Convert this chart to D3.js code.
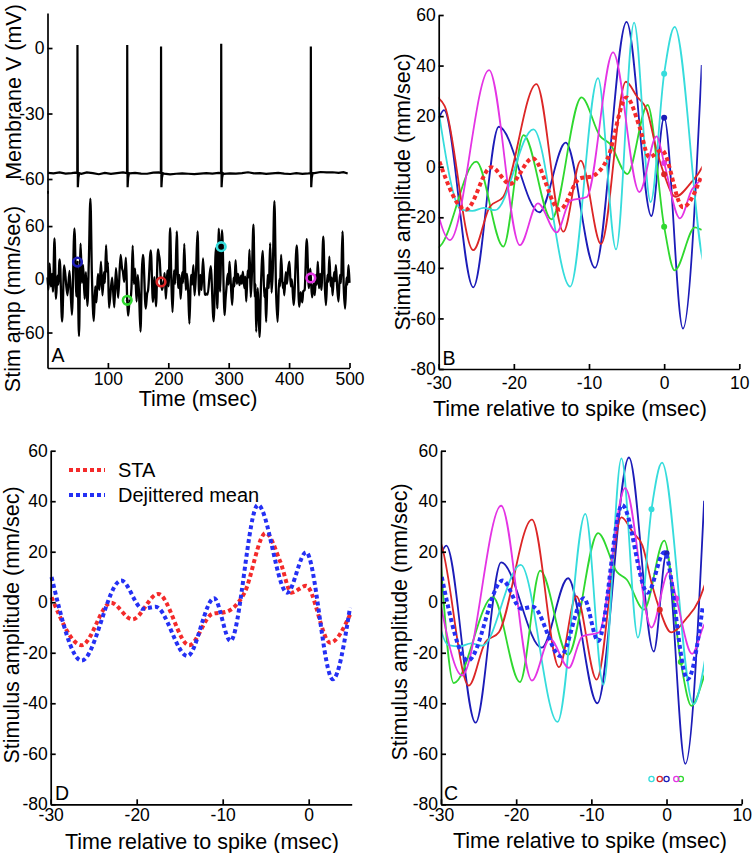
<!DOCTYPE html>
<html>
<head>
<meta charset="utf-8">
<script src="https://cdn.jsdelivr.net/npm/d3@7"></script>
<style>
  body { margin: 0; background: #fff; }
  svg { display: block; font-family: "Liberation Sans", Arial, sans-serif; }
  .axis path, .axis line { stroke: #000; stroke-width: 1.7; }
  .axis text { font-size: 17.5px; fill: #000; }
  .lab { font-size: 21.5px; fill: #000; }
  .panel { font-size: 19.5px; fill: #000; }
</style>
</head>
<body>
<svg id="fig" width="752" height="853"></svg>
<script>
// ---- data ----
// order of trials: blue, green, red, cyan, magenta
const trialColors = ["#1c1cb8", "#2fd82f", "#dc2626", "#36dcdc", "#e434e4"];
const spikeTimes = [49.6, 132, 188, 287.6, 436];      // msec
const spikePeakV = [1.4, 1.4, 0.7, 2, 0.7];           // mV
const spikeStim = [19.4, -23.7, -3, 36.8, 1.5];       // stimulus at spike time
const jitter = [0, 1.9, -0.9, -2.0, 1.3];             // dejitter shift (msec)

// spike waveform (relative time, mV); null = spike peak
const spikeWaveDt = [-0.3, 0, 0.6, 1.5, 3];
const spikeWaveV = [-57.3, null, -63.8, -59.5, -57.3];

// membrane baseline [msec, mV]
const vmBaseline = [[1,-57.2],[10,-57.4],[20,-57.0],[30,-57.5],[40,-57.3],[46,-57.1],[56,-57.6],[65,-57.0],
  [75,-57.3],[85,-57.8],[95,-57.2],[105,-57.6],[115,-57.3],[125,-57.0],[136,-57.4],[145,-57.2],[155,-57.5],
  [165,-57.6],[175,-57.1],[184,-57.0],[193,-57.5],[203,-57.9],[213,-57.6],[223,-57.4],[233,-57.6],[243,-57.8],
  [253,-57.5],[263,-57.3],[273,-57.5],[283,-57.2],[292,-57.6],[302,-57.4],[312,-57.5],[322,-57.3],[332,-56.9],
  [342,-57.4],[352,-57.3],[362,-57.6],[372,-57.4],[382,-57.2],[392,-57.5],[402,-57.7],[412,-57.3],[422,-57.6],
  [432,-57.4],[442,-57.3],[452,-56.8],[462,-57.0],[472,-56.9],[482,-57.2],[490,-56.9],[497,-57.5]];

// stimulus trace extrema [msec, mm/sec]
const stimTrace = [[0,2],[1.5,-12],[3.5,18],[5.5,-8],[7.5,6],[9,-14],[11.6,46],[14,-22],[16.5,4],[18,-6],
  [19.6,19],[20.3,22.4],[24.2,-47.7],[27.6,15.8],[33,-18],[36.5,9.5],[40.4,-40],[44.6,57.3],[47.9,-19.5],[49.6,19.4],[52.1,-64],[54.8,40.2],
  [57,-4],[59,16],[61.5,-22],[63.5,8],[66,-30],[68.5,22],[71,91],[73.5,5],[76.6,-47],[79,-8],[81,-26],[83.5,6],[86,-12],[88.5,20],[91,-18],[93.5,8],[95,-4],[97,38.5],[98.7,8],
  [100,19],[101.8,-32],[107,2],[110.6,-31.6],[113.3,12.5],[117,-20.8],[121,27.4],[123.5,12],[124.8,9],[127.1,-2.9],[129.8,24.4],[132,-23.7],[133.4,-41],[136.1,-24],[137,-25],
  [139,-10],[141,38],[143,-5],[145,12],[147.5,-25],[149.5,5],[151.5,-15],[154,-59],[156.3,10],
  [157.9,27.4],[158.8,24],[162.6,-33],[165,-16],[166.5,-12.5],[171,32.7],[174.6,-25.7],[176.9,2.4],[179.6,-30.6],[182.9,33.6],[184.4,27.7],[185.7,22.4],[187,6.6],[188,-3],[189.5,-11.9],[191.5,-6],[193.2,0.7],[194,7],
  [196,-22],[198.5,10],[200.5,-8],[203,57.7],[205,0],[207,-37],[209.5,10],[211.5,-5],[214,54],[216.5,-10],[218.5,5],[220.5,-22],[223,8],[224.5,-4],[226.5,40],[229,-12],[231,6],[233,-15],[235,-50],[237.5,5],[239.5,-6],[241.5,16],[243.5,-18],[246,10],[248.5,54],[251,-18],[253,5],[255,-12],
  [257.5,23.7],[260.6,-17],[262.1,-17.5],[263.6,-16.3],[265.1,-17.2],[270.2,14.8],[275.1,-47.4],[278.8,35],[281.2,-32.7],[283.6,57],[285.8,-14],[287.6,36.8],[289,55.3],[293.2,-40.4],[294.7,-23],
  [296.5,-8],[298.5,6],[299.8,-6],[301.3,20],[303.5,-5],[305.8,-29],[308,2],[309.5,-8],[311.4,21.6],[313.5,-5],[315.5,6],[318,-6.5],[320.5,4],[321.8,-5],[323.4,8.5],[326,-10],[327.5,3],[329,-25],[331.5,10],[332.8,2],[334.4,33.5],[336.5,-20],[338.5,8],[341,61.5],[343.3,-20],[344.3,-5],[345.5,-59],[348,-10],[349.3,-30],[351,-65],[353.5,-5],[356.5,32],[359,-20],[360.3,-10],[362,-48],[364.5,5],[366.5,-10],[368.6,40.7],[371,-15],[373,10],[375.7,88],[378.3,-10],[381,-48],[383.5,0],[385,-8],[386.8,27.5],[389.5,-10],[390.8,-4],[392,-18],[394.5,8],[396.5,-5],[398.5,12],[400.5,20],[402.8,-8],
  [404.6,0],[407.5,-29],[412.7,38.2],[416.8,-31],[419.2,-14.5],[421.7,-26],[423.5,-13.5],[425.7,-12],[429.2,45.2],[432.7,-10],[435,12],[436,1.5],[438.1,-20.4],[439.7,-9],[441,-5],
  [442.5,-17.8],[444.5,5],[446,-6],[447.5,20],[449.5,-10],[451.5,6],[453.5,-12],[456.6,48],[459,-5],[461,-29],[463.5,5],[465,-3],[466.6,25.6],[469,-8],[470.5,2],[472,-18],[474.5,8],[476,-2],[477.4,16],[479.5,-8],[481.8,-25],[484,5],[486,-4],[488.4,54],[490.5,-10],[492.8,-33],[495,2],[496.5,-6],[498.4,16],[500,-4]];

// stimulus windows around each spike [msec relative to spike, mm/sec]
const blueWin = [[-30,19],[-29.3,22.4],[-25.4,-47.7],[-22,15.8],[-16.6,-18],[-13.1,9.5],[-9.2,-40],[-5,57.3],[-1.7,-19.5],[0,19.4],[2.5,-64],[5,40.2]];
const greenWin = [[-32,19],[-30.2,-32],[-25,2],[-21.4,-31.6],[-18.7,12.5],[-15,-20.8],[-11,27.4],[-8.5,12],[-7.2,9],[-4.9,-2.9],[-2.2,24.4],[0,-23.7],[1.4,-41],[4.1,-24],[5,-25]];
const redWin = [[-30.1,27.4],[-29.2,24],[-25.4,-33],[-23.2,-15.8],[-21.4,-11.9],[-17,32.7],[-13.4,-25.7],[-11.1,2.4],[-8.4,-30.6],[-5.1,33.6],[-3.6,27.7],[-2.3,22.4],[-1,6.6],[0,-3],[1.5,-11.9],[3.5,-6.6],[5.2,0.7],[6,7]];
const cyanWin = [[-30.1,23.7],[-27,-17],[-25.5,-17.5],[-24,-16.3],[-22.5,-17.2],[-17.4,14.8],[-12.5,-47.4],[-8.8,35],[-6.4,-32.7],[-4,57],[-1.8,-14],[0,36.8],[1.4,55.3],[5.6,-40.4],[7.1,-23]];
const magentaWin = [[-31.4,0],[-28.5,-29],[-23.3,38.2],[-19.2,-31],[-16.8,-14.5],[-14.3,-26],[-12.5,-13.5],[-10.3,-12],[-6.8,45.2],[-3.3,-10],[-1,12],[0,1.5],[2.1,-20.4],[3.7,-9],[5,-5]];
const trialWins = [blueWin, greenWin, redWin, cyanWin, magentaWin];

const staCurve = [[-29.9,2],[-26.4,-17],[-23,-0.2],[-20.5,-6.8],[-17.5,3.3],[-13.9,-17],[-11.2,-4.6],[-9.6,-3.8],[-7.5,3.5],[-5,27.4],[-3.3,16],[-2,3.8],[-0.3,6.5],[2.5,-16],[4.9,-4.2]];
const dejitCurve = [[-29.9,10],[-26.4,-23.1],[-21.8,8.6],[-19.3,-2.6],[-17.8,-1.8],[-14.1,-21.3],[-11,1.6],[-9.1,-15.3],[-5.9,38.5],[-2.5,3.8],[-0.3,19.8],[2.8,-30.5],[4.8,-2.2]];

const ampTicks = [60, 40, 20, 0, -20, -40, -60, -80];
const relTicksBC = [-30, -20, -10, 0, 10];
const relTicksD = [-30, -20, -10, 0];

const staColor = "#f42a2a", dejitColor = "#2430f4";

// ---- drawing ----
const svg = d3.select("#fig");
svg.append("rect").attr("width", 752).attr("height", 853).attr("fill", "#fff");
const fmt = d => String(d);

function leftAxis(scale, ticks, x, pad) {
  const g = svg.append("g").attr("class", "axis").attr("transform", `translate(${x},0)`)
    .call(d3.axisLeft(scale).tickValues(ticks).tickFormat(fmt).tickSizeInner(-5).tickSizeOuter(0).tickPadding(pad));
  g.attr("font-size", null).attr("font-family", null);
  return g;
}
function bottomAxis(scale, ticks, y, pad) {
  const g = svg.append("g").attr("class", "axis").attr("transform", `translate(0,${y})`)
    .call(d3.axisBottom(scale).tickValues(ticks).tickFormat(fmt).tickSizeInner(-5).tickSizeOuter(0).tickPadding(pad));
  g.attr("font-size", null).attr("font-family", null);
  return g;
}
function label(txt, x, y, rot, cls) {
  svg.append("text").attr("class", cls || "lab")
    .attr("transform", `translate(${x},${y})` + (rot ? " rotate(-90)" : ""))
    .attr("text-anchor", cls ? "start" : "middle").text(txt);
}
const mono = d3.curveMonotoneX;

// Panel A
const xA = d3.scaleLinear([0, 500], [47.5, 349.5]);
const yV = d3.scaleLinear([-66.5, 16], [193.2, 13.1]);
const yS = d3.scaleLinear([-100, 100], [368, 190.6]);

const vmPoints = vmBaseline.filter(([t]) => !spikeTimes.some(s => t > s - 1 && t < s + 4));
spikeTimes.forEach((s, i) => {
  spikeWaveDt.forEach((dt, k) => vmPoints.push([s + dt, spikeWaveV[k] === null ? spikePeakV[i] : spikeWaveV[k]]));
});
vmPoints.sort((a, b) => a[0] - b[0]);

svg.append("path").datum(vmPoints).attr("fill", "none").attr("stroke", "#000").attr("stroke-width", 2.2)
  .attr("d", d3.line().x(d => xA(d[0])).y(d => yV(d[1])));
svg.append("path").datum(stimTrace).attr("fill", "none").attr("stroke", "#000").attr("stroke-width", 2.3)
  .attr("stroke-linejoin", "round")
  .attr("d", d3.line().x(d => xA(d[0])).y(d => yS(d[1])).curve(mono));
svg.selectAll(".spk").data(spikeTimes).enter().append("circle")
  .attr("cx", d => xA(d)).attr("cy", (d, i) => yS(spikeStim[i])).attr("r", 4.3)
  .attr("fill", "none").attr("stroke", (d, i) => trialColors[i]).attr("stroke-width", 2.6);
svg.selectAll(".spkc").data(spikeTimes).enter().append("circle")
  .attr("cx", d => xA(d)).attr("cy", (d, i) => yS(spikeStim[i])).attr("r", 1.3).attr("fill", "#000");

leftAxis(yV, [0, -30, -60], xA(0), 3);
leftAxis(yS, [60, 0, -60], xA(0), 3);
bottomAxis(xA, [100, 200, 300, 400, 500], yS(-100), 5);
label("Membrane V (mV)", 20.5, 92, true);
label("Stim amp (mm/sec)", 19.5, 299, true);
label("Time (msec)", 198, 406);
label("A", 51.5, 362, false, "panel");

// Panel B
const xB = d3.scaleLinear([-30, 10], [438.7, 739.3]);
const yB = d3.scaleLinear([-80, 60], [369, 15]);
// Panel C
const xC = d3.scaleLinear([-30, 10], [441, 741.7]);
const yC = d3.scaleLinear([-80, 60], [804.3, 450.7]);
// Panel D
const xD = d3.scaleLinear([-30, 5], [50.7, 351.7]);
const yD = d3.scaleLinear([-80, 60], [804.3, 450.7]);

const defs = svg.append("defs");
defs.append("clipPath").attr("id", "clipB").append("rect")
  .attr("x", xB(-30)).attr("y", 0).attr("width", xB(5) - xB(-30)).attr("height", 420);
defs.append("clipPath").attr("id", "clipC").append("rect")
  .attr("x", xC(-30)).attr("y", 430).attr("width", xC(5) - xC(-30)).attr("height", 400);

const gB = svg.append("g").attr("clip-path", "url(#clipB)");
trialWins.forEach((w, i) => {
  gB.append("path").datum(w).attr("fill", "none").attr("stroke", trialColors[i]).attr("stroke-width", 1.8)
    .attr("d", d3.line().x(d => xB(d[0])).y(d => yB(d[1])).curve(mono));
});
gB.selectAll(".dotB").data(spikeStim).enter().append("circle")
  .attr("cx", xB(0)).attr("cy", d => yB(d)).attr("r", 3).attr("fill", (d, i) => trialColors[i]);
gB.append("path").datum(staCurve).attr("fill", "none").attr("stroke", staColor).attr("stroke-width", 4)
  .attr("stroke-dasharray", "4,3")
  .attr("d", d3.line().x(d => xB(d[0])).y(d => yB(d[1])).curve(mono));
leftAxis(yB, ampTicks, xB(-30), 3);
bottomAxis(xB, relTicksBC, yB(-80), 8);
label("Stimulus amplitude (mm/sec)", 410, 192, true);
label("Time relative to spike (msec)", 570, 415.5);
label("B", 442.5, 365, false, "panel");

// Panel C (dejittered windows)
const gC = svg.append("g").attr("clip-path", "url(#clipC)");
trialWins.forEach((w, i) => {
  gC.append("path").datum(w).attr("fill", "none").attr("stroke", trialColors[i]).attr("stroke-width", 1.8)
    .attr("d", d3.line().x(d => xC(d[0] + jitter[i])).y(d => yC(d[1])).curve(mono));
});
gC.selectAll(".dotC").data(spikeStim).enter().append("circle")
  .attr("cx", (d, i) => xC(jitter[i])).attr("cy", d => yC(d)).attr("r", 3).attr("fill", (d, i) => trialColors[i]);
gC.append("path").datum(dejitCurve).attr("fill", "none").attr("stroke", dejitColor).attr("stroke-width", 4)
  .attr("stroke-dasharray", "4,3")
  .attr("d", d3.line().x(d => xC(d[0])).y(d => yC(d[1])).curve(mono));
svg.selectAll(".ring").data(jitter).enter().append("circle")
  .attr("cx", d => xC(d)).attr("cy", yC(-70)).attr("r", 2.6)
  .attr("fill", "none").attr("stroke", (d, i) => trialColors[i]).attr("stroke-width", 1.3);
leftAxis(yC, ampTicks, xC(-30), 3);
bottomAxis(xC, relTicksBC, yC(-80), 4);
label("Stimulus amplitude (mm/sec)", 407, 622, true);
label("Time relative to spike (msec)", 590, 848);
label("C", 444, 800, false, "panel");

// Panel D (STA vs dejittered mean)
svg.append("path").datum(staCurve).attr("fill", "none").attr("stroke", staColor).attr("stroke-width", 4)
  .attr("stroke-dasharray", "4,3")
  .attr("d", d3.line().x(d => xD(d[0])).y(d => yD(d[1])).curve(mono));
svg.append("path").datum(dejitCurve).attr("fill", "none").attr("stroke", dejitColor).attr("stroke-width", 4)
  .attr("stroke-dasharray", "4,3")
  .attr("d", d3.line().x(d => xD(d[0])).y(d => yD(d[1])).curve(mono));
leftAxis(yD, ampTicks, xD(-30), 3);
bottomAxis(xD, relTicksD, yD(-80), 4);
label("Stimulus amplitude (mm/sec)", 19, 625, true);
label("Time relative to spike (msec)", 202, 848.5);
label("D", 55, 800, false, "panel");

// legend
const legend = [["STA", staColor], ["Dejittered mean", dejitColor]];
legend.forEach(([name, col], i) => {
  const y = 470 + i * 25;
  svg.append("line").attr("x1", 69).attr("x2", 105).attr("y1", y).attr("y2", y)
    .attr("stroke", col).attr("stroke-width", 4).attr("stroke-dasharray", "4,3");
  svg.append("text").attr("x", 118).attr("y", y + 7).attr("font-size", 20).text(name);
});
</script>
</body>
</html>
